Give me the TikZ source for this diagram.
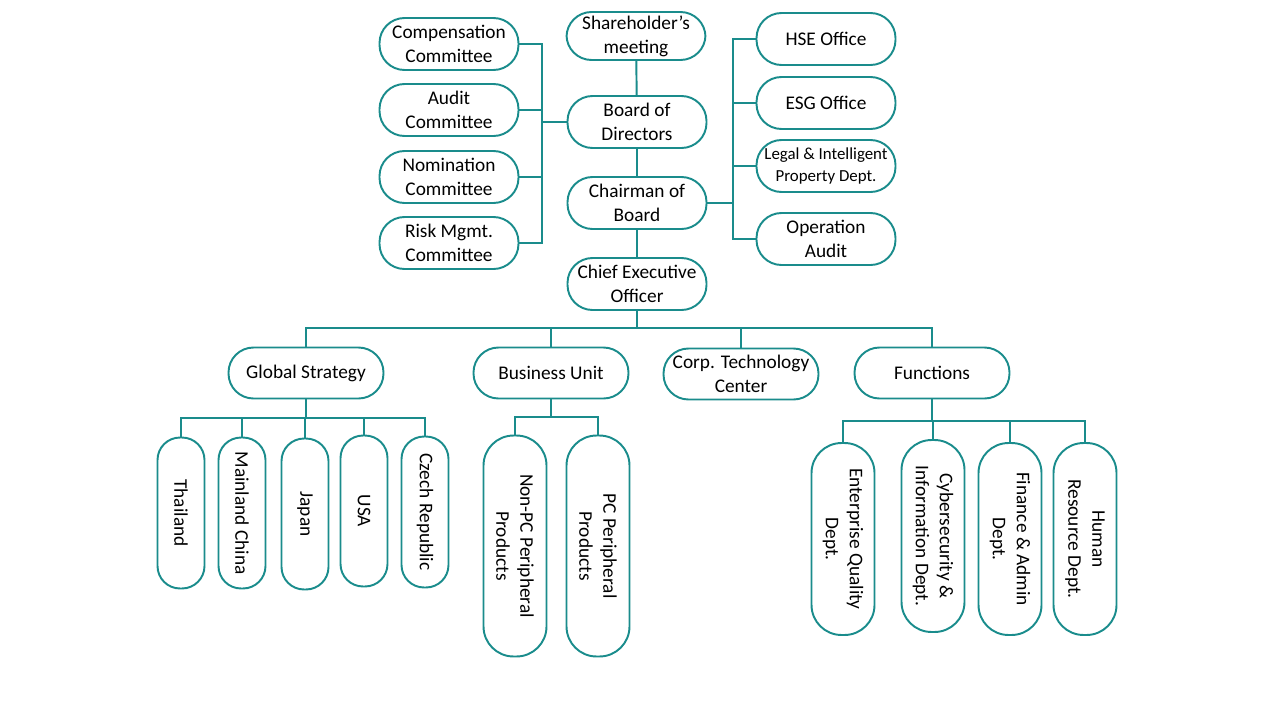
\documentclass[tikz,border=0pt]{standalone}
\usepackage{fontspec}
\setmainfont{Carlito}
\definecolor{orgteal}{RGB}{26,140,140}
\tikzset{box/.style={draw=orgteal, line width=1.1pt, rectangle, rounded corners=0.5cm,
        minimum width=2.78cm, minimum height=1.04cm, inner sep=0pt, align=center,
        font=\fontsize{11}{13.6}\selectfont},
         wide/.style={box, minimum width=3.1cm, minimum height=1.02cm},
         vbox/.style={box, rotate=-90, minimum width=3.02cm, minimum height=0.94cm, rounded corners=0.45cm},
         tallbox/.style={box, rotate=-90, minimum width=3.84cm, minimum height=1.26cm, rounded corners=0.6cm},
         link/.style={draw=orgteal, line width=1.1pt}}

\begin{document}
\begin{tikzpicture}[x=0.02cm, y=-0.02cm]
\useasboundingbox (0,0) rectangle (1280,720);
\node[box] (comp) at (449,44) {Compensation\\Committee};
\node[box] (audit) at (449,110) {Audit\\Committee};
\node[box] (nomi) at (449,177) {Nomination\\Committee};
\node[box] (risk) at (449,243) {Risk Mgmt.\\Committee};

\node[box, minimum height=0.96cm] (share) at (636,36) {Shareholder's\\meeting};
\node[box] (board) at (637,122) {Board of\\Directors};
\node[box] (chair) at (637,203) {Chairman of\\Board};
\node[box] (ceo) at (637,284) {Chief Executive\\Officer};

\node[box] (hse) at (826,39) {HSE Office};
\node[box] (esg) at (826,103) {ESG Office};
\node[box, font=\fontsize{9.6}{12.2}\selectfont] (legal) at (826,166) {Legal \& Intelligent\\Property Dept.};
\node[box] (opaudit) at (826,239) {Operation\\Audit};

\node[wide] (gs) at (306,373) {Global Strategy};
\node[wide] (bu) at (551,373) {Business Unit};
\node[wide] (ctc) at (741,374) {Corp. Technology\\Center};
\node[wide] (fun) at (932,373) {Functions};

\node[vbox] (thai) at (181,513) {Thailand};
\node[vbox] (china) at (242,513) {Mainland China};
\node[vbox] (japan) at (305,514) {Japan};
\node[vbox] (usa) at (364,511) {USA};
\node[vbox] (czech) at (425,512) {Czech Republic};

\node[tallbox, minimum width=4.42cm] (nonpc) at (515,546) {Non-PC Peripheral\\Products};
\node[tallbox, minimum width=4.42cm] (pc) at (598,546) {PC Peripheral\\Products};

\node[tallbox] (eq) at (843,539) {Enterprise Quality\\Dept.};
\node[tallbox] (cyber) at (933,536) {Cybersecurity \&\\Information Dept.};
\node[tallbox] (fin) at (1010,539) {Finance \& Admin\\Dept.};
\node[tallbox] (hr) at (1085,539) {Human\\Resource Dept.};

\coordinate (lb) at (542,122);
\coordinate (rb) at (733,203);
\coordinate (cb) at (637,328);
\coordinate (gb) at (306,418);
\coordinate (bb) at (551,417);
\coordinate (fb) at (932,421);

\draw[link] (share) -- (board) -- (chair) -- (ceo);
\draw[link] (board.west) -- (lb);
\foreach \n in {comp,audit,nomi,risk} \draw[link] (\n.east) -| (lb);
\draw[link] (chair.east) -- (rb);
\foreach \n in {hse,esg,legal,opaudit} \draw[link] (\n.west) -| (rb);
\draw[link] (ceo.south) -- (cb);
\foreach \n in {gs,bu,ctc,fun} \draw[link] (\n.north) |- (cb);
\draw[link] (gs.south) -- (gb);
\foreach \n in {thai,china,japan,usa,czech} \draw[link] (\n.west) |- (gb);
\draw[link] (bu.south) -- (bb);
\foreach \n in {nonpc,pc} \draw[link] (\n.west) |- (bb);
\draw[link] (fun.south) -- (fb);
\foreach \n in {eq,cyber,fin,hr} \draw[link] (\n.west) |- (fb);
\end{tikzpicture}
\end{document}
